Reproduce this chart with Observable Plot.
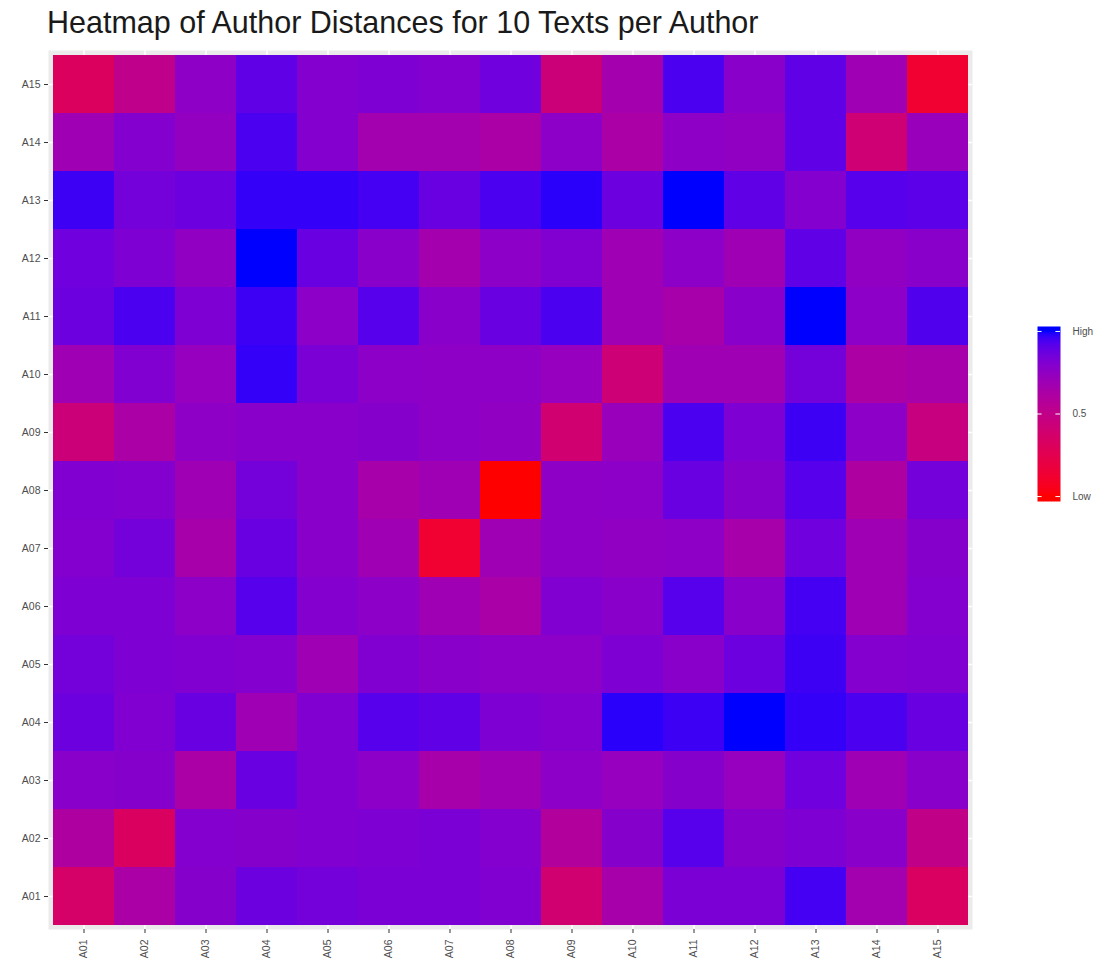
<!DOCTYPE html>
<html>
<head>
<meta charset="utf-8">
<script src="https://cdn.jsdelivr.net/npm/d3@7"></script>
<script src="https://cdn.jsdelivr.net/npm/@observablehq/plot@0.6"></script>
<style>
  html, body { margin: 0; padding: 0; background: #ffffff; }
  #wrap { position: relative; width: 1117px; height: 967px; overflow: hidden; font-family: "Liberation Sans", Arial, sans-serif; }
  #title { position: absolute; left: 47px; top: 5px; font-size: 30.5px; color: #1a1a1a; white-space: nowrap; }
  #main { position: absolute; left: 0; top: 40px; }
  #legend { position: absolute; left: 1037px; top: 316px; }
</style>
</head>
<body>
<div id="wrap">
  <div id="title">Heatmap of Author Distances for 10 Texts per Author</div>
  <div id="main"></div>
  <div id="legend"></div>
</div>
<script>
// Authors (categories on both axes)
const authors = ["A01","A02","A03","A04","A05","A06","A07","A08","A09","A10","A11","A12","A13","A14","A15"];

// Distance values: one array per row author (y), in column order A01..A15 (x)
const rowA01 = [0.36, 0.63, 0.79, 0.87, 0.85, 0.83, 0.83, 0.81, 0.40, 0.65, 0.83, 0.83, 0.95, 0.67, 0.33];
const rowA02 = [0.61, 0.32, 0.80, 0.79, 0.81, 0.82, 0.83, 0.80, 0.59, 0.79, 0.92, 0.79, 0.82, 0.78, 0.50];
const rowA03 = [0.78, 0.79, 0.63, 0.88, 0.81, 0.77, 0.65, 0.69, 0.77, 0.73, 0.79, 0.73, 0.86, 0.69, 0.78];
const rowA04 = [0.87, 0.81, 0.88, 0.69, 0.81, 0.92, 0.90, 0.82, 0.80, 0.98, 0.96, 1.00, 0.97, 0.94, 0.88];
const rowA05 = [0.85, 0.82, 0.81, 0.80, 0.69, 0.81, 0.78, 0.77, 0.77, 0.82, 0.78, 0.87, 0.96, 0.80, 0.81];
const rowA06 = [0.82, 0.82, 0.77, 0.92, 0.80, 0.77, 0.69, 0.64, 0.81, 0.78, 0.92, 0.78, 0.95, 0.69, 0.80];
const rowA07 = [0.80, 0.85, 0.65, 0.88, 0.78, 0.69, 0.13, 0.69, 0.76, 0.75, 0.76, 0.65, 0.86, 0.69, 0.79];
const rowA08 = [0.81, 0.80, 0.69, 0.85, 0.78, 0.65, 0.69, 0.00, 0.76, 0.77, 0.88, 0.79, 0.92, 0.61, 0.85];
const rowA09 = [0.43, 0.63, 0.76, 0.78, 0.78, 0.79, 0.76, 0.75, 0.40, 0.72, 0.94, 0.82, 0.96, 0.77, 0.46];
const rowA10 = [0.69, 0.81, 0.73, 0.97, 0.83, 0.77, 0.76, 0.76, 0.73, 0.42, 0.69, 0.69, 0.85, 0.62, 0.65];
const rowA11 = [0.87, 0.94, 0.82, 0.96, 0.77, 0.92, 0.78, 0.88, 0.94, 0.69, 0.65, 0.78, 1.00, 0.77, 0.93];
const rowA12 = [0.86, 0.82, 0.75, 1.00, 0.88, 0.78, 0.66, 0.77, 0.81, 0.69, 0.77, 0.69, 0.90, 0.75, 0.78];
const rowA13 = [0.96, 0.85, 0.87, 0.97, 0.97, 0.95, 0.88, 0.94, 0.98, 0.87, 1.00, 0.90, 0.80, 0.92, 0.91];
const rowA14 = [0.69, 0.80, 0.74, 0.94, 0.80, 0.67, 0.67, 0.63, 0.77, 0.63, 0.76, 0.75, 0.90, 0.41, 0.72];
const rowA15 = [0.31, 0.51, 0.76, 0.90, 0.80, 0.82, 0.80, 0.86, 0.43, 0.66, 0.94, 0.78, 0.90, 0.69, 0.13];

// Legend breaks and labels
const legendBreaks = [0, 0.5, 1];
const legendLabels = ["Low", "0.5", "High"];

const rows = [rowA01, rowA02, rowA03, rowA04, rowA05, rowA06, rowA07, rowA08, rowA09, rowA10, rowA11, rowA12, rowA13, rowA14, rowA15];
const cells = rows.flatMap((row, i) => row.map((v, j) => ({x: authors[j], y: authors[i], value: v})));

const colorScale = {type: "linear", domain: [0, 1], range: ["red", "blue"], interpolate: "lab"};
const textColor = "#4d4d4d";
const tickColor = "#333333";

const main = Plot.plot({
  width: 1000,
  height: 929,
  marginLeft: 48,
  marginRight: 28,
  marginTop: 10,
  marginBottom: 40,
  style: {fontFamily: "'Liberation Sans', Arial, sans-serif", fontSize: "10.5px", background: "transparent"},
  x: {domain: authors, padding: 0, inset: 3.5, label: null},
  y: {domain: authors.slice().reverse(), padding: 0, inset: 3.5, label: null},
  color: colorScale,
  marks: [
    Plot.frame({fill: "#EBEBEB", stroke: null}),
    Plot.gridX({stroke: "white", strokeOpacity: 1, strokeWidth: 1.5}),
    Plot.gridY({stroke: "white", strokeOpacity: 1, strokeWidth: 1.5}),
    Plot.cell(cells, {x: "x", y: "y", fill: "value", inset: 0, shapeRendering: "crispEdges"}),
    Plot.axisX({tickRotate: -90, tickSize: 4, tickPadding: 6, fill: textColor, stroke: tickColor, label: null}),
    Plot.axisY({tickSize: 4, tickPadding: 4, fill: textColor, stroke: tickColor, label: null})
  ]
});
document.getElementById("main").appendChild(main);

// Vertical colour bar legend drawn with the same colour scale
const legend = Plot.plot({
  width: 80,
  height: 195,
  marginLeft: 0,
  marginRight: 57,
  marginTop: 10,
  marginBottom: 10,
  style: {fontFamily: "'Liberation Sans', Arial, sans-serif", fontSize: "10px", background: "transparent", overflow: "visible"},
  x: {domain: [0, 1], axis: null},
  y: {domain: [-0.03, 1.03], axis: null},
  color: colorScale,
  marks: [
    Plot.raster({
      fill: (x, y) => Math.max(0, Math.min(1, y)),
      x1: 0, x2: 1, y1: -0.03, y2: 1.03,
      width: 1, height: 200,
      imageRendering: "auto"
    }),
    Plot.ruleY(legendBreaks, {x1: 0, x2: 0.2, stroke: "white", strokeWidth: 1}),
    Plot.ruleY(legendBreaks, {x1: 0.8, x2: 1, stroke: "white", strokeWidth: 1}),
    Plot.axisY(legendBreaks, {
      anchor: "right", tickSize: 0, tickPadding: 12, fill: textColor, label: null,
      tickFormat: (d) => legendLabels[legendBreaks.indexOf(d)]
    })
  ]
});
document.getElementById("legend").appendChild(legend);
</script>
</body>
</html>
